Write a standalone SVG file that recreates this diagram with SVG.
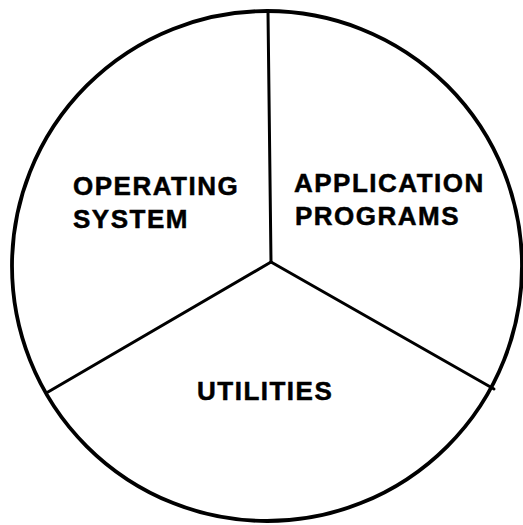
<svg xmlns="http://www.w3.org/2000/svg" width="523" height="525" viewBox="0 0 523 525">
<style>
.lbl{font-family:"Liberation Sans",Arial,sans-serif;font-weight:bold;font-size:26px;letter-spacing:1.5px;fill:#000;stroke:#000;stroke-width:0.5}
.ln{stroke:#000;stroke-width:3;fill:none;stroke-linecap:round}
</style>
<rect width="523" height="525" fill="#fff"/>
<g id="circle"><circle cx="267" cy="266" r="255" fill="none" stroke="#000" stroke-width="3.8"/></g>
<g id="connectors">
<line class="ln" x1="268" y1="12" x2="271" y2="262"/>
<line class="ln" x1="271" y1="262" x2="48" y2="392"/>
<line class="ln" x1="271" y1="262" x2="494" y2="389"/>
</g>
<g id="os"><text class="lbl" x="73" y="195">OPERATING</text><text class="lbl" x="73" y="228">SYSTEM</text></g>
<g id="app"><text class="lbl" x="294" y="192">APPLICATION</text><text class="lbl" x="295" y="225">PROGRAMS</text></g>
<g id="util"><text class="lbl" x="197" y="400">UTILITIES</text></g>
</svg>
